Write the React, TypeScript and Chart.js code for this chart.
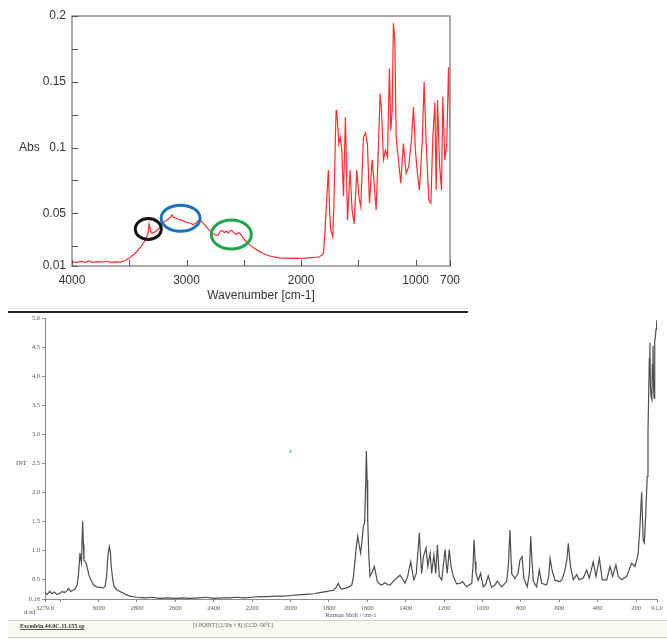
import React, { useEffect, useRef } from "react";
import { Chart, registerables } from "chart.js";

Chart.register(...registerables);

// ---------- IR spectrum (top) ----------
const irWavenumbers = [
  4000, 3960, 3920, 3880, 3850, 3820, 3780, 3740, 3700, 3660, 3620, 3580, 3540, 3500, 3450, 3400,
  3365, 3345, 3335, 3327, 3318, 3305, 3285, 3260, 3230, 3205, 3170, 3140, 3127, 3115, 3095, 3075,
  3057, 3030, 3010, 2990, 2965, 2943, 2920, 2895, 2880, 2860, 2838, 2810, 2785, 2768, 2745, 2725,
  2705, 2690, 2670, 2650, 2636, 2615, 2600, 2585, 2565, 2545, 2525, 2500, 2472, 2440, 2410, 2370,
  2330, 2290, 2240, 2190, 2140, 2090, 2040, 2000, 1960, 1920, 1880, 1840, 1815, 1805, 1795, 1782,
  1770, 1762, 1750, 1741, 1723, 1712, 1700, 1694, 1688, 1683, 1671, 1659, 1645, 1630, 1613, 1595,
  1572, 1555, 1537, 1514, 1496, 1479, 1456, 1438, 1421, 1403, 1380, 1362, 1345, 1327, 1310, 1298,
  1281, 1264, 1246, 1229, 1217, 1205, 1194, 1182, 1170, 1153, 1130, 1107, 1083, 1060, 1037, 1019,
  1002, 985, 967, 943, 926, 908, 885, 867, 850, 832, 821, 809, 792, 774, 763, 745,
  728, 713, 700,
];
const irAbsorbance = [
  0.013, 0.0128, 0.0135, 0.0128, 0.0138, 0.0127, 0.0133, 0.013, 0.0136, 0.0128, 0.0132, 0.013, 0.014, 0.016, 0.0195, 0.0245,
  0.029, 0.033, 0.035, 0.042, 0.0385, 0.035, 0.0355, 0.037, 0.0395, 0.043, 0.045, 0.047, 0.049, 0.047, 0.0465, 0.0455,
  0.045, 0.0445, 0.0435, 0.043, 0.0425, 0.0415, 0.0425, 0.0445, 0.045, 0.043, 0.041, 0.038, 0.036, 0.0345, 0.0335, 0.0335,
  0.0365, 0.037, 0.0355, 0.0365, 0.035, 0.037, 0.0368, 0.035, 0.034, 0.0355, 0.034, 0.0305, 0.028, 0.0255, 0.0235, 0.0215,
  0.0195, 0.018, 0.017, 0.0162, 0.016, 0.0158, 0.016, 0.0157, 0.016, 0.0163, 0.0165, 0.017, 0.0185, 0.02, 0.03, 0.0526,
  0.07, 0.083, 0.05, 0.0374, 0.032, 0.0627, 0.11, 0.1286, 0.125, 0.121, 0.103, 0.108, 0.098, 0.063, 0.123, 0.045,
  0.083, 0.0526, 0.042, 0.083, 0.063, 0.055, 0.108, 0.111, 0.103, 0.0577, 0.0907, 0.0729, 0.0526, 0.0957, 0.141, 0.1286,
  0.0906, 0.098, 0.093, 0.16, 0.113, 0.1286, 0.1945, 0.182, 0.108, 0.093, 0.0729, 0.103, 0.0805, 0.0855, 0.1058, 0.131,
  0.098, 0.0805, 0.0677, 0.103, 0.15, 0.103, 0.06, 0.0577, 0.108, 0.134, 0.0677, 0.136, 0.088, 0.0677, 0.1387, 0.0907,
  0.103, 0.161, 0.115,
];
const irYTicks = [0.01, 0.05, 0.1, 0.15, 0.2];
const irYMinorTicks = [0.025, 0.075, 0.125, 0.175];
const irXTicks = [4000, 3000, 2000, 1000, 700];
const irXMinorTicks = [3500, 2500, 1500];
// highlighted regions (centre wavenumber, centre absorbance)
const irCircleWavenumbers = [3334, 3052, 2609];
const irCircleAbsorbance = [0.0381, 0.0463, 0.0339];
const irCircleColors = ["#111111", "#1a6fc6", "#1fa64a"];

// ---------- Raman spectrum (bottom) ----------
const ramanShift = [
  3279, 3268, 3255, 3242, 3230, 3218, 3201, 3190, 3178, 3165, 3157, 3145, 3133, 3123, 3112, 3105,
  3097, 3093, 3089, 3083, 3079, 3076, 3065, 3048, 3027, 3010, 2993, 2975, 2966, 2958, 2955, 2950,
  2944, 2938, 2934, 2927, 2920, 2905, 2888, 2860, 2836, 2800, 2760, 2720, 2680, 2640, 2600, 2560,
  2520, 2480, 2440, 2400, 2360, 2320, 2280, 2240, 2200, 2160, 2120, 2080, 2040, 2000, 1960, 1920,
  1880, 1846, 1810, 1777, 1762, 1751, 1742, 1734, 1700, 1681, 1672, 1664, 1658, 1650, 1643, 1635,
  1628, 1621, 1614, 1608, 1605, 1601, 1598, 1592, 1586, 1575, 1564, 1556, 1548, 1536, 1525, 1508,
  1495, 1482, 1460, 1430, 1415, 1404, 1390, 1374, 1365, 1357, 1345, 1329, 1322, 1317, 1308, 1294,
  1285, 1273, 1265, 1253, 1244, 1235, 1225, 1212, 1195, 1184, 1173, 1164, 1152, 1135, 1117, 1104,
  1083, 1056, 1049, 1044, 1038, 1034, 1022, 1010, 996, 983, 970, 953, 935, 923, 900, 874,
  865, 857, 850, 848, 831, 815, 805, 794, 784, 767, 756, 749, 742, 735, 718, 704,
  692, 666, 655, 648, 638, 622, 596, 585, 570, 560, 553, 546, 540, 527, 509, 497,
  475, 457, 444, 423, 409, 391, 376, 353, 336, 322, 305, 293, 275, 249, 223, 206,
  195, 189, 180, 171, 167, 163, 157, 150, 142, 138, 134, 131, 128, 125, 122, 118,
  115, 112, 109, 106, 103, 99, 96, 93, 91,
];
const ramanIntensity = [
  0.27, 0.24, 0.29, 0.25, 0.28, 0.24, 0.26, 0.29, 0.27, 0.3, 0.34, 0.29, 0.31, 0.33, 0.4, 0.55,
  0.95, 0.85, 0.78, 1.5, 1.1, 0.83, 0.78, 0.55, 0.4, 0.37, 0.36, 0.35, 0.38, 0.55, 0.72, 0.95,
  1.06, 0.95, 0.72, 0.52, 0.38, 0.32, 0.29, 0.24, 0.21, 0.19, 0.18, 0.19, 0.17, 0.18, 0.17, 0.18,
  0.17, 0.18, 0.19, 0.17, 0.18, 0.18, 0.19, 0.18, 0.19, 0.2, 0.2, 0.21, 0.21, 0.22, 0.23, 0.24,
  0.25, 0.27, 0.29, 0.31, 0.36, 0.43, 0.36, 0.33, 0.36, 0.4, 0.55, 0.83, 1.05, 1.24, 1.1, 0.95,
  1.15, 1.41, 1.47, 2.2, 2.71, 2.2, 1.53, 0.9, 0.55, 0.62, 0.72, 0.6, 0.46, 0.42, 0.4, 0.44,
  0.41, 0.4, 0.48, 0.57, 0.5, 0.43, 0.55, 0.8, 0.62, 0.49, 0.6, 1.3, 0.85, 0.6, 0.89, 1.04,
  0.72, 0.95, 0.6, 0.92, 0.6, 1.09, 0.55, 0.49, 1.01, 0.6, 1.01, 0.72, 0.55, 0.42, 0.43, 0.46,
  0.37, 0.43, 0.75, 1.18, 0.8, 0.6, 0.48, 0.6, 0.37, 0.42, 0.56, 0.36, 0.4, 0.47, 0.37, 0.46,
  0.75, 1.35, 0.75, 0.6, 0.51, 0.6, 0.83, 0.89, 0.51, 0.37, 0.6, 1.24, 0.8, 0.46, 0.37, 0.66,
  0.43, 0.4, 0.55, 0.86, 0.66, 0.48, 0.46, 0.5, 0.66, 0.85, 1.12, 0.85, 0.69, 0.49, 0.58, 0.49,
  0.52, 0.66, 0.52, 0.8, 0.55, 0.86, 0.49, 0.49, 0.72, 0.55, 0.75, 0.55, 0.49, 0.55, 0.78, 0.72,
  0.85, 0.95, 1.4, 2.0, 1.6, 1.18, 1.13, 1.6, 2.27, 3.0, 3.77, 4.3, 4.58, 3.8, 3.65, 3.6,
  4.2, 4.52, 3.8, 3.62, 4.58, 4.7, 4.81, 4.9, 4.97,
];
const ramanMarkerShift = [2000];
const ramanMarkerIntensity = [2.7];
const ramanYTicks = [0.16, 0.5, 1.0, 1.5, 2.0, 2.5, 3.0, 3.5, 4.0, 4.5, 5.0];
const ramanXTicks = [3279, 3200, 3000, 2800, 2600, 2400, 2200, 2000, 1800, 1600, 1400, 1200, 1000, 800, 600, 400, 200, 91];

const SANS = "'Liberation Sans', Arial, sans-serif";
const SERIF = "'Liberation Serif', 'Times New Roman', serif";

const irDecor = {
  id: "irDecor",
  afterDatasetsDraw(chart: any) {
    const { ctx, chartArea: a, scales } = chart;
    const x = scales.x;
    const y = scales.y;
    ctx.save();
    ctx.strokeStyle = "#8f8f8f";
    ctx.lineWidth = 1.5;
    ctx.strokeRect(a.left, a.top, a.right - a.left, a.bottom - a.top);
    ctx.strokeStyle = "#555";
    ctx.lineWidth = 1;
    ctx.beginPath();
    [...irYTicks, ...irYMinorTicks].forEach((v) => {
      const py = Math.round(y.getPixelForValue(v)) + 0.5;
      ctx.moveTo(a.left, py);
      ctx.lineTo(a.left + 6, py);
    });
    [...irXTicks, ...irXMinorTicks].forEach((v) => {
      const px = Math.round(x.getPixelForValue(v)) + 0.5;
      ctx.moveTo(px, a.bottom);
      ctx.lineTo(px, a.bottom - 6);
    });
    ctx.stroke();
    const radii = [
      [13, 10.5],
      [19.5, 13],
      [20, 14.5],
    ];
    irCircleWavenumbers.forEach((wn, i) => {
      ctx.beginPath();
      ctx.strokeStyle = irCircleColors[i];
      ctx.lineWidth = 3;
      ctx.ellipse(x.getPixelForValue(wn), y.getPixelForValue(irCircleAbsorbance[i]), radii[i][0], radii[i][1], 0, 0, Math.PI * 2);
      ctx.stroke();
    });
    ctx.fillStyle = "#333";
    ctx.font = `12px ${SANS}`;
    ctx.textAlign = "left";
    ctx.textBaseline = "middle";
    ctx.fillText("Abs", 19, y.getPixelForValue(0.1));
    ctx.restore();
  },
};

const ramanDecor = {
  id: "ramanDecor",
  afterDraw(chart: any) {
    const { ctx, scales } = chart;
    const y = scales.y;
    ctx.save();
    ctx.fillStyle = "#444";
    ctx.font = `6.5px ${SERIF}`;
    ctx.textAlign = "left";
    ctx.textBaseline = "middle";
    ctx.fillText("INT", 16, y.getPixelForValue(2.5));
    ctx.fillText("d.wf", 24, 300);
    // footer
    ctx.fillStyle = "#f9f8f2";
    ctx.fillRect(8, 308, 659, 18);
    ctx.strokeStyle = "#d2d0c8";
    ctx.lineWidth = 1;
    ctx.beginPath();
    ctx.moveTo(8, 308.5);
    ctx.lineTo(667, 308.5);
    ctx.moveTo(8, 325.5);
    ctx.lineTo(667, 325.5);
    ctx.stroke();
    ctx.fillStyle = "#333";
    ctx.font = `bold 6px ${SERIF}`;
    ctx.fillText("Excedrin.44.0C.11.155.sp", 20, 314);
    const w = ctx.measureText("Excedrin.44.0C.11.155.sp").width;
    ctx.fillRect(20, 317, w, 0.8);
    ctx.font = `5.5px ${SERIF}`;
    ctx.fillStyle = "#555";
    ctx.fillText("[1 POINT] [2.50s × 8] [CCD -50°C]", 193, 314);
    ctx.restore();
  },
};

function IrChart() {
  const ref = useRef<HTMLCanvasElement>(null);
  useEffect(() => {
    const points = irWavenumbers.map((w, i) => ({ x: w, y: irAbsorbance[i] }));
    const chart = new Chart(ref.current as HTMLCanvasElement, {
      type: "line",
      data: {
        datasets: [
          {
            data: points,
            borderColor: "rgb(255,45,45)",
            borderWidth: 1.2,
            pointRadius: 0,
            tension: 0,
            fill: false,
          },
        ],
      },
      options: {
        animation: false,
        responsive: false,
        devicePixelRatio: 1,
        layout: { padding: { left: 0, top: 16, right: 20, bottom: 0 } },
        plugins: { legend: { display: false }, tooltip: { enabled: false } },
        scales: {
          x: {
            type: "linear",
            reverse: true,
            min: 700,
            max: 4000,
            afterBuildTicks: (s: any) => {
              s.ticks = irXTicks.map((v) => ({ value: v }));
            },
            afterFit: (s: any) => {
              s.height = 44;
            },
            grid: { display: false, drawTicks: false },
            border: { display: false },
            ticks: {
              autoSkip: false,
              maxRotation: 0,
              padding: 7,
              color: "#333",
              font: { family: SANS, size: 12 },
              callback: (v: any) => String(v),
            },
            title: {
              display: true,
              text: "Wavenumber [cm-1]",
              color: "#333",
              font: { family: SANS, size: 12 },
              padding: { top: 0, bottom: 7 },
            },
          },
          y: {
            type: "linear",
            min: 0.01,
            max: 0.2,
            afterBuildTicks: (s: any) => {
              s.ticks = irYTicks.map((v) => ({ value: v }));
            },
            afterFit: (s: any) => {
              s.width = 72;
            },
            grid: { display: false, drawTicks: false },
            border: { display: false },
            ticks: {
              autoSkip: false,
              padding: 6,
              color: "#333",
              font: { family: SANS, size: 12 },
              callback: (v: any) => String(v),
            },
          },
        },
      },
      plugins: [irDecor],
    } as any);
    return () => chart.destroy();
  }, []);
  return (
    <canvas
      ref={ref}
      width={470}
      height={310}
      style={{ position: "absolute", left: 0, top: 0, width: 470, height: 310 }}
    />
  );
}

function RamanChart() {
  const ref = useRef<HTMLCanvasElement>(null);
  useEffect(() => {
    const points = ramanShift.map((s, i) => ({ x: s, y: ramanIntensity[i] }));
    const markers = ramanMarkerShift.map((s, i) => ({ x: s, y: ramanMarkerIntensity[i] }));
    const chart = new Chart(ref.current as HTMLCanvasElement, {
      type: "line",
      data: {
        datasets: [
          {
            data: points,
            borderColor: "#4d4d4d",
            borderWidth: 1.2,
            pointRadius: 0,
            tension: 0,
            fill: false,
          },
          {
            data: markers,
            showLine: false,
            pointRadius: 1.5,
            pointBorderWidth: 0,
            pointBackgroundColor: "#7be07b",
          },
        ],
      },
      options: {
        animation: false,
        responsive: false,
        devicePixelRatio: 1,
        layout: { padding: { left: 0, top: 6, right: 10, bottom: 19 } },
        plugins: { legend: { display: false }, tooltip: { enabled: false } },
        scales: {
          x: {
            type: "linear",
            reverse: true,
            min: 91,
            max: 3279,
            afterBuildTicks: (s: any) => {
              s.ticks = ramanXTicks.map((v) => ({ value: v }));
            },
            afterFit: (s: any) => {
              s.height = 21;
            },
            grid: { display: true, drawOnChartArea: false, drawTicks: true, tickLength: 3, color: "#888" },
            border: { display: true, color: "#8a8a8a", width: 1 },
            ticks: {
              autoSkip: false,
              maxRotation: 0,
              padding: 2,
              color: "#555",
              font: { family: SERIF, size: 6.5 },
              callback: (v: any) => (v === 3279 ? "3279.0" : v === 91 ? "91.0" : v === 3200 ? "" : String(v)),
            },
            title: {
              display: true,
              text: "Raman Shift / cm-1",
              color: "#555",
              font: { family: SERIF, size: 6.5 },
              padding: { top: 0, bottom: 1 },
            },
          },
          y: {
            type: "linear",
            min: 0.16,
            max: 5.0,
            afterBuildTicks: (s: any) => {
              s.ticks = ramanYTicks.map((v) => ({ value: v }));
            },
            afterFit: (s: any) => {
              s.width = 45;
            },
            grid: { display: true, drawOnChartArea: false, drawTicks: true, tickLength: 3, color: "#888" },
            border: { display: true, color: "#8a8a8a", width: 1 },
            ticks: {
              autoSkip: false,
              padding: 2,
              color: "#555",
              font: { family: SERIF, size: 6.5 },
              callback: (v: any) => (v === 0.16 ? "0.16" : Number(v).toFixed(1)),
            },
          },
        },
      },
      plugins: [ramanDecor],
    } as any);
    return () => chart.destroy();
  }, []);
  return (
    <canvas
      ref={ref}
      width={667}
      height={327}
      style={{ position: "absolute", left: 0, top: 312, width: 667, height: 327 }}
    />
  );
}

export default function App() {
  return (
    <div
      style={{
        position: "absolute",
        left: 0,
        top: 0,
        width: 667,
        height: 639,
        background: "#ffffff",
        overflow: "hidden",
      }}
    >
      <IrChart />
      <div style={{ position: "absolute", left: 8, top: 308, width: 460, height: 1, background: "#e4e4e4" }} />
      <div style={{ position: "absolute", left: 8, top: 311, width: 460, height: 2, background: "#222" }} />
      <RamanChart />
    </div>
  );
}
